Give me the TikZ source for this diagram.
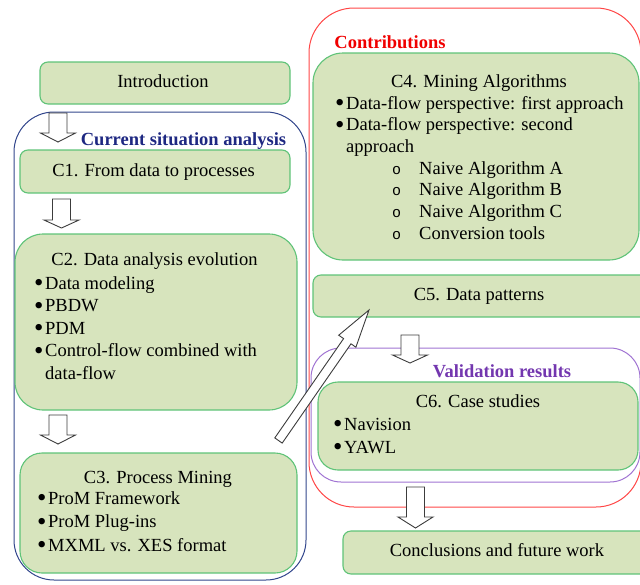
\documentclass[tikz,border=0pt]{standalone}
\usepackage{fontspec}
\usepackage{graphicx}
\setmainfont{Liberation Serif}
\setmonofont{Liberation Mono}
\definecolor{boxfill}{RGB}{215,228,189}
\definecolor{boxline}{RGB}{95,195,120}
\definecolor{bluegrp}{RGB}{50,70,140}
\definecolor{bluetxt}{RGB}{30,40,130}
\definecolor{redgrp}{RGB}{255,70,70}
\definecolor{redtxt}{RGB}{240,0,0}
\definecolor{purpgrp}{RGB}{160,115,210}
\definecolor{purptxt}{RGB}{115,55,175}
\definecolor{arrline}{RGB}{60,60,60}
% first-level bullet and second-level marker for the lists
\newcommand\bul{\makebox[11pt][l]{\smash{\raisebox{-2.5pt}{\scalebox{1.45}{\textbullet}}}}}
\newcommand\subit{\hspace*{57pt}\makebox[27pt][l]{\fontsize{15}{15}\selectfont\ttfamily o}}
\tikzset{
  box/.style={draw=boxline, fill=boxfill, line width=1.1pt, inner sep=0pt, outer sep=0pt},
  group/.style={draw=#1, line width=1pt, inner sep=0pt, outer sep=0pt},
  title/.style={anchor=base, inner sep=0pt},
  label/.style={anchor=base, inner sep=0pt, font=\fontsize{18.5}{22}\selectfont\bfseries, text=#1},
  % lists are placed by the baseline of their last line
  itemlist/.style={anchor=base west, align=left, inner sep=0pt,
    font=\fontsize{18.5}{#1}\selectfont},
  arrowshape/.style={draw=arrline, fill=white, line width=0.9pt, line join=miter},
  pics/downarr/.style n args={2}{code={
    \draw[arrowshape] (-9,0) -- (-9,#1-#2) -- (-17.5,#1-#2) -- (0,#1)
      -- (17.5,#1-#2) -- (9,#1-#2) -- (9,0) -- cycle;}}
}
\begin{document}
\begin{tikzpicture}[x=1pt, y=-1pt, font=\fontsize{18.5}{22}\selectfont]
\useasboundingbox (0,0) rectangle (640,584);
\clip (0,0) rectangle (640,584);

% grouping frames
\node[group=bluegrp, rounded corners=40pt, minimum width=292pt, minimum height=468pt] (cur) at (160,346) {};
\node[group=redgrp, rounded corners=45pt, minimum width=332pt, minimum height=499pt] (contrib) at (475,257.5) {};
\node[group=purpgrp, rounded corners=30pt, minimum width=329pt, minimum height=134pt] (valid) at (475.5,415) {};

% chapter boxes
\node[box, rounded corners=8pt, minimum width=250pt, minimum height=42pt] (intro) at (165,83) {};
\node[box, rounded corners=8pt, minimum width=270pt, minimum height=43pt] (c1) at (155,171.5) {};
\node[box, rounded corners=28pt, minimum width=282pt, minimum height=176pt] (c2) at (156,322) {};
\node[box, rounded corners=22pt, minimum width=277pt, minimum height=120pt] (c3) at (158.5,513) {};
\node[box, rounded corners=30pt, minimum width=326pt, minimum height=207pt] (c4) at (476,156.5) {};
\node[box, rounded corners=8pt, minimum width=347pt, minimum height=42pt] (c5) at (486.5,296) {};
\node[box, rounded corners=20pt, minimum width=320pt, minimum height=88pt] (c6) at (478,426) {};
\node[box, rounded corners=8pt, minimum width=317pt, minimum height=43pt] (concl) at (501.5,552.5) {};

% frame labels
\node[label=bluetxt] (curlbl) at (183.5,145) {Current situation analysis};
\node[label=redtxt] (contriblbl) at (390,48) {Contributions};
\node[label=purptxt] (validlbl) at (502,377) {Validation results};

% titles
\node[title] (introt) at (163,87) {Introduction};
\node[title] (c1t) at (153.5,176) {C1. From data to processes};
\node[title] (c2t) at (154.5,265) {C2. Data analysis evolution};
\node[title] (c3t) at (158,483) {C3. Process Mining};
\node[title] (c4t) at (479,87) {C4. Mining Algorithms};
\node[title] (c5t) at (479,300) {C5. Data patterns};
\node[title] (c6t) at (478,407) {C6. Case studies};
\node[title] (conclt) at (497,556) {Conclusions and future work};

% item lists
\node[itemlist=22.5] (c2l) at (34,379) {\bul Data modeling\\ \bul PBDW\\ \bul PDM\\
  \bul Control-flow combined with\\ \hspace*{11pt}data-flow};
\node[itemlist=23.5] (c3l) at (37,551) {\bul ProM Framework\\ \bul ProM Plug-ins\\
  \bul MXML vs. XES format};
\node[itemlist=21.7] (c4l) at (335,239.2) {\bul Data-flow perspective: first approach\\
  \bul Data-flow perspective: second\\ \hspace*{11pt}approach\\
  \subit Naive Algorithm A\\ \subit Naive Algorithm B\\
  \subit Naive Algorithm C\\ \subit Conversion tools};
\node[itemlist=23] (c6l) at (333,453) {\bul Navision\\ \bul YAWL};

% block arrows
\pic (a1) at (58,113) {downarr={29}{9}};
\pic (a2) at (61.5,199) {downarr={29}{8}};
\pic (a3) at (58,415) {downarr={29}{9}};
\pic (a4) at (410,335) {downarr={28}{8}};
\pic (a5) at (415.5,487) {downarr={41}{11}};
\draw[arrowshape] (282.2,443.1) -- (351.0,343.8) -- (355.9,347.2) -- (369,310)
  -- (338.7,335.2) -- (343.6,338.6) -- (274.8,437.9) -- cycle;
\end{tikzpicture}
\end{document}
